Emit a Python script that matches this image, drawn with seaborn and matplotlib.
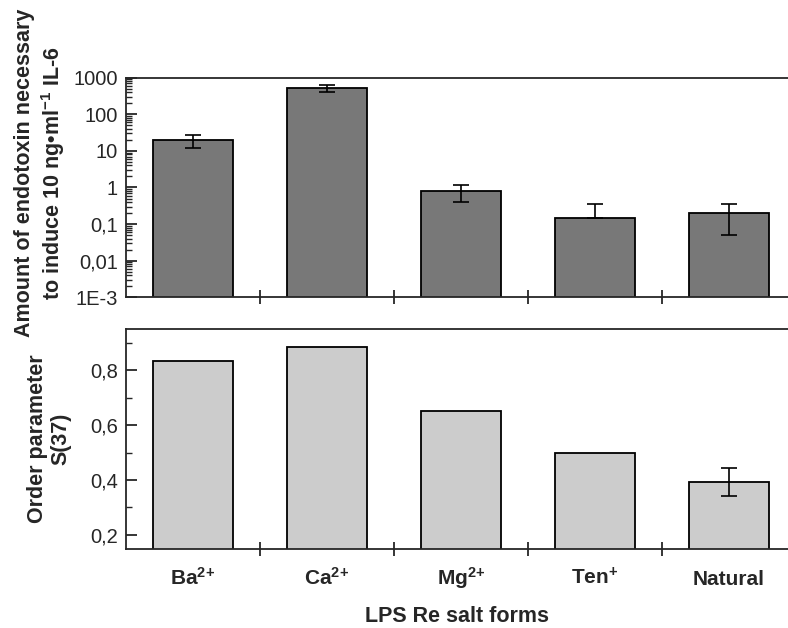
import matplotlib
matplotlib.use("Agg")
import matplotlib.pyplot as plt
import matplotlib.ticker as mticker
import seaborn as sns
import pandas as pd

# ---- data ----
categories = ["Ba", "Ca", "Mg", "Ten", "Natural"]
tick_labels = [r"Ba$^{2\!+}$", r"Ca$^{2\!+}$", r"Mg$^{2\!+}$", r"Ten$^{+}$", "Natural"]
endotoxin = [20, 520, 0.8, 0.15, 0.2]
endotoxin_err_low = [8, 110, 0.4, 0.0, 0.15]
endotoxin_err_high = [8, 110, 0.4, 0.21, 0.15]
order_param = [0.833, 0.884, 0.653, 0.50, 0.393]
order_err = [0, 0, 0, 0, 0.05]
log_ticks = [1e-3, 1e-2, 1e-1, 1, 10, 100, 1000]
log_tick_labels = ["1E-3", "0,01", "0,1", "1", "10", "100", "1000"]
lin_ticks = [0.2, 0.4, 0.6, 0.8]
lin_tick_labels = ["0,2", "0,4", "0,6", "0,8"]

sns.set_theme(style="ticks")
plt.rcParams["font.family"] = ["Liberation Sans", "DejaVu Sans"]
plt.rcParams["mathtext.fontset"] = "custom"
plt.rcParams["mathtext.rm"] = "Liberation Sans:bold"
plt.rcParams["mathtext.bf"] = "Liberation Sans:bold"
plt.rcParams["mathtext.it"] = "Liberation Sans:bold"
plt.rcParams["mathtext.default"] = "bf"

df_top = pd.DataFrame({"salt": categories, "value": endotoxin})
df_bot = pd.DataFrame({"salt": categories, "value": order_param})

fig = plt.figure(figsize=(7.88, 6.28), dpi=100)
ax1 = fig.add_axes([0.160, 0.5266, 0.84, 0.3497])
ax2 = fig.add_axes([0.160, 0.1263, 0.84, 0.3498])

lw = 1.3
sns.barplot(data=df_top, x="salt", y="value", order=categories, ax=ax1,
            color="#787878", saturation=1, width=0.6, edgecolor="black",
            linewidth=lw, errorbar=None)
ax1.set_yscale("log")
sns.barplot(data=df_bot, x="salt", y="value", order=categories, ax=ax2,
            color="#cccccc", saturation=1, width=0.6, edgecolor="black",
            linewidth=lw, errorbar=None)

pos = list(range(len(categories)))
ax1.errorbar(pos, endotoxin, yerr=[endotoxin_err_low, endotoxin_err_high],
             fmt="none", ecolor="black", elinewidth=1.2, capsize=5.5, capthick=1.2)
nat = [i for i, e in enumerate(order_err) if e > 0]
ax2.errorbar([pos[i] for i in nat], [order_param[i] for i in nat],
             yerr=[order_err[i] for i in nat],
             fmt="none", ecolor="black", elinewidth=1.2, capsize=5.5, capthick=1.2)

xmax = -0.5 + 662 / 134
for ax in (ax1, ax2):
    ax.set_xlim(-0.5, xmax)
    ax.spines["right"].set_visible(False)
    for s in ("left", "top", "bottom"):
        ax.spines[s].set_linewidth(lw)
    ax.set_xticks(pos)
    ax.set_xticks([0.5, 1.5, 2.5, 3.5], minor=True)
    ax.tick_params(axis="x", which="major", length=0, pad=12)
    ax.tick_params(axis="x", which="minor", direction="inout", length=10, width=lw)
    ax.tick_params(axis="y", which="major", direction="in", length=8, width=lw,
                   labelsize=14.5, pad=6)
    ax.tick_params(axis="y", which="minor", direction="in", length=4, width=1.0)
    ax.set_xlabel("")

ax1.set_ylim(1e-3, 1000)
ax1.set_yticks(log_ticks)
ax1.set_yticklabels(log_tick_labels)
ax1.yaxis.set_minor_locator(mticker.LogLocator(base=10, subs=range(2, 10), numticks=20))
ax1.yaxis.set_minor_formatter(mticker.NullFormatter())
ax1.set_xticklabels([])

ax2.set_ylim(0.15, 0.95)
ax2.set_yticks(lin_ticks)
ax2.set_yticklabels(lin_tick_labels)
ax2.yaxis.set_minor_locator(mticker.FixedLocator([0.3, 0.5, 0.7, 0.9]))
ax2.set_xticklabels(tick_labels, fontsize=15, fontweight="bold")
for t in ax2.get_xticklabels():
    t.set_va("baseline")
ax2.tick_params(axis="x", which="major", pad=26)

ax1.set_ylabel("Amount of endotoxin necessary\nto induce 10 ng\u2022ml$^{-1}$ IL-6",
               fontsize=15.5, fontweight="bold", linespacing=1.2)
ax1.yaxis.set_label_coords(-0.089, 0.566)
ax2.set_ylabel("Order parameter\nS(37)", fontsize=15.5, fontweight="bold", linespacing=1.2)
ax2.yaxis.set_label_coords(-0.082, 0.5)
ax2.set_xlabel("LPS Re salt forms", fontsize=15.5, fontweight="bold", labelpad=11)

fig.savefig("out.png", dpi=100)
